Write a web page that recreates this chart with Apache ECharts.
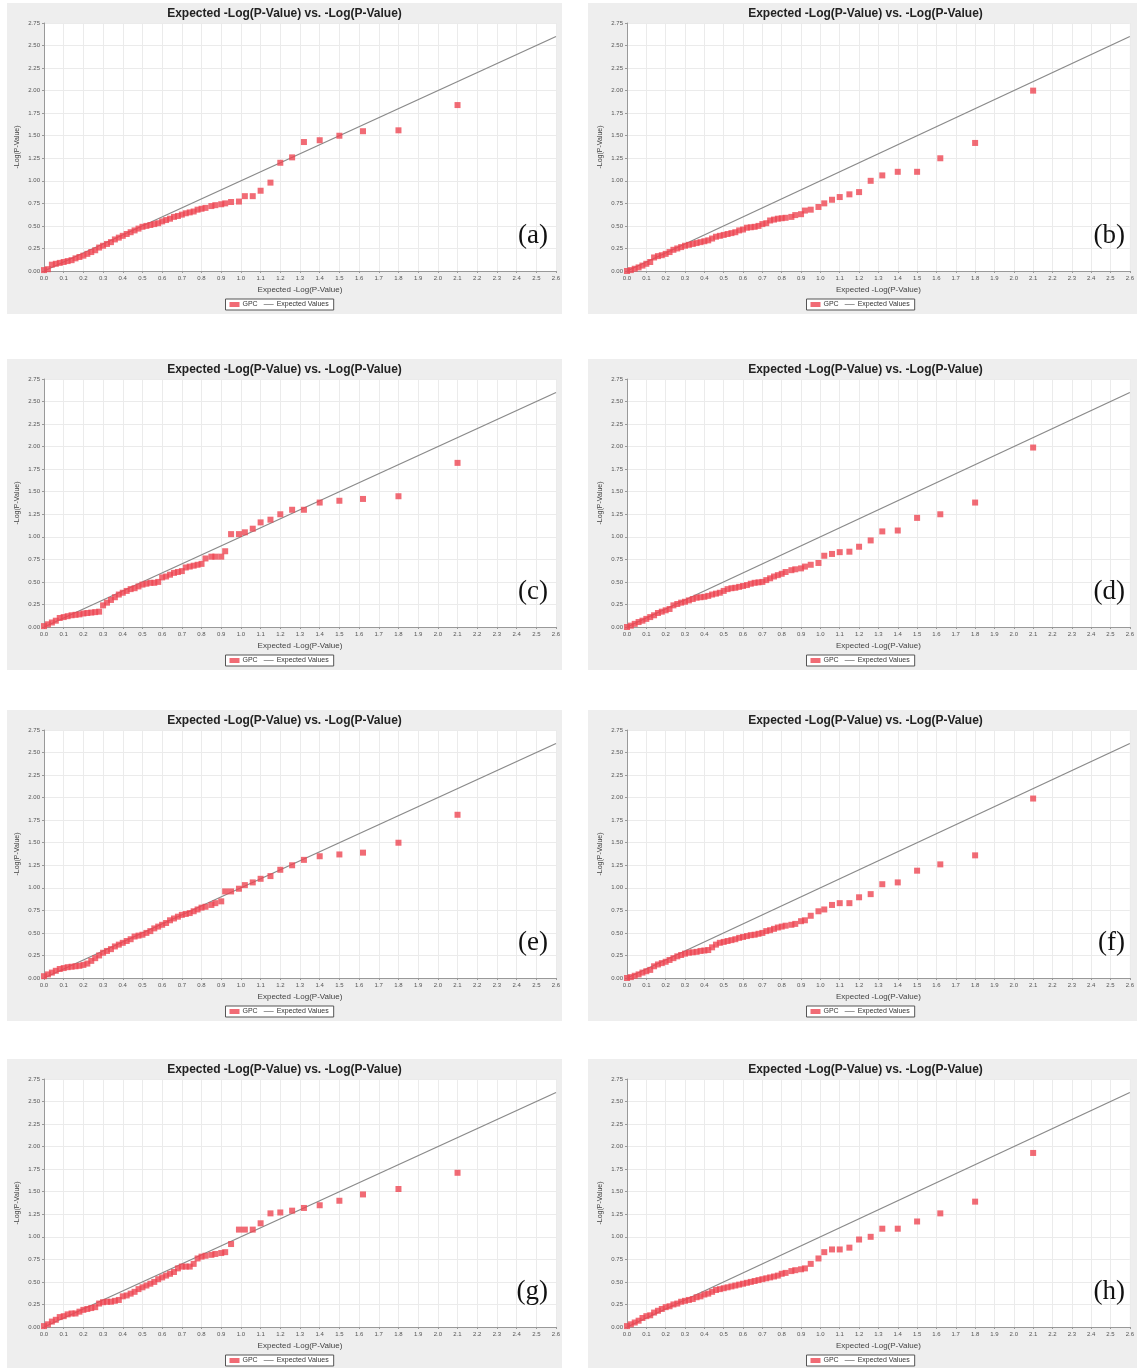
<!DOCTYPE html>
<html>
<head>
<meta charset="utf-8">
<script src="https://cdn.jsdelivr.net/npm/echarts@6/dist/echarts.min.js"></script>
<style>
html,body{margin:0;padding:0;background:#fff;}
#chart{width:1137px;height:1368px;}
</style>
</head>
<body>
<div id="chart"></div>
<script>
// Expected -Log(P-Value) (x) shared by all panels
const expected = [2.10, 1.80, 1.62, 1.50, 1.40, 1.32, 1.26, 1.20, 1.15, 1.10,
  1.06, 1.02, 0.99, 0.95, 0.92, 0.90, 0.87, 0.85, 0.82, 0.80,
  0.78, 0.76, 0.74, 0.72, 0.70, 0.68, 0.66, 0.64, 0.62, 0.60,
  0.58, 0.56, 0.54, 0.52, 0.50, 0.48, 0.46, 0.44, 0.42, 0.40,
  0.38, 0.36, 0.34, 0.32, 0.30, 0.28, 0.26, 0.24, 0.22, 0.20,
  0.18, 0.16, 0.14, 0.12, 0.10, 0.08, 0.06, 0.04, 0.02, 0.00];

// Observed -Log(P-Value) per panel
const obsA = [1.84, 1.56, 1.55, 1.50, 1.45, 1.43, 1.26, 1.20, 0.98, 0.89,
  0.83, 0.83, 0.77, 0.765, 0.75, 0.74, 0.73, 0.72, 0.70, 0.69,
  0.68, 0.66, 0.65, 0.64, 0.625, 0.61, 0.60, 0.58, 0.565, 0.55,
  0.53, 0.52, 0.51, 0.50, 0.49, 0.47, 0.45, 0.43, 0.41, 0.39,
  0.37, 0.35, 0.32, 0.30, 0.28, 0.26, 0.23, 0.21, 0.19, 0.17,
  0.155, 0.14, 0.12, 0.11, 0.10, 0.09, 0.08, 0.07, 0.02, 0.01];
const obsB = [2.00, 1.42, 1.25, 1.10, 1.10, 1.06, 1.00, 0.875, 0.85, 0.82,
  0.79, 0.75, 0.71, 0.68, 0.67, 0.63, 0.62, 0.60, 0.59, 0.585,
  0.58, 0.57, 0.56, 0.53, 0.52, 0.50, 0.49, 0.485, 0.48, 0.46,
  0.45, 0.43, 0.42, 0.41, 0.40, 0.39, 0.38, 0.36, 0.34, 0.33,
  0.32, 0.31, 0.30, 0.29, 0.28, 0.265, 0.25, 0.235, 0.21, 0.19,
  0.175, 0.165, 0.15, 0.10, 0.08, 0.06, 0.04, 0.025, 0.01, 0.00];
const obsC = [1.82, 1.45, 1.42, 1.40, 1.38, 1.30, 1.30, 1.25, 1.19, 1.16,
  1.09, 1.05, 1.03, 1.03, 0.84, 0.78, 0.78, 0.78, 0.76, 0.70,
  0.69, 0.68, 0.67, 0.66, 0.62, 0.61, 0.60, 0.58, 0.56, 0.55,
  0.50, 0.49, 0.49, 0.48, 0.47, 0.45, 0.43, 0.42, 0.40, 0.38,
  0.36, 0.33, 0.30, 0.27, 0.24, 0.17, 0.165, 0.16, 0.155, 0.15,
  0.14, 0.135, 0.13, 0.12, 0.11, 0.10, 0.07, 0.05, 0.03, 0.01];
const obsD = [1.99, 1.38, 1.25, 1.21, 1.07, 1.06, 0.96, 0.89, 0.835, 0.83,
  0.81, 0.79, 0.71, 0.69, 0.67, 0.65, 0.64, 0.63, 0.61, 0.59,
  0.575, 0.56, 0.54, 0.52, 0.50, 0.495, 0.49, 0.48, 0.465, 0.455,
  0.445, 0.435, 0.43, 0.42, 0.40, 0.38, 0.37, 0.36, 0.345, 0.335,
  0.33, 0.325, 0.31, 0.295, 0.28, 0.27, 0.255, 0.24, 0.20, 0.185,
  0.17, 0.155, 0.13, 0.11, 0.09, 0.07, 0.055, 0.035, 0.015, 0.00];
const obsE = [1.81, 1.50, 1.39, 1.37, 1.35, 1.31, 1.25, 1.20, 1.13, 1.10,
  1.06, 1.03, 0.99, 0.96, 0.96, 0.85, 0.83, 0.81, 0.79, 0.78,
  0.76, 0.74, 0.72, 0.71, 0.70, 0.68, 0.66, 0.64, 0.61, 0.59,
  0.57, 0.55, 0.52, 0.50, 0.48, 0.47, 0.46, 0.43, 0.41, 0.39,
  0.37, 0.35, 0.32, 0.30, 0.28, 0.25, 0.22, 0.19, 0.16, 0.145,
  0.135, 0.13, 0.125, 0.12, 0.11, 0.10, 0.08, 0.06, 0.04, 0.02];
const obsF = [1.99, 1.36, 1.26, 1.19, 1.06, 1.04, 0.93, 0.895, 0.83, 0.83,
  0.81, 0.76, 0.74, 0.69, 0.64, 0.63, 0.60, 0.59, 0.58, 0.57,
  0.56, 0.545, 0.53, 0.52, 0.50, 0.49, 0.48, 0.475, 0.465, 0.455,
  0.445, 0.43, 0.42, 0.41, 0.40, 0.39, 0.37, 0.34, 0.31, 0.305,
  0.30, 0.29, 0.285, 0.28, 0.27, 0.255, 0.24, 0.22, 0.20, 0.18,
  0.165, 0.15, 0.13, 0.09, 0.075, 0.06, 0.04, 0.025, 0.01, 0.00];
const obsG = [1.71, 1.53, 1.47, 1.40, 1.35, 1.32, 1.29, 1.27, 1.26, 1.15,
  1.08, 1.08, 1.08, 0.92, 0.83, 0.82, 0.81, 0.80, 0.79, 0.78,
  0.76, 0.70, 0.67, 0.67, 0.67, 0.65, 0.61, 0.59, 0.57, 0.55,
  0.53, 0.50, 0.48, 0.46, 0.44, 0.42, 0.39, 0.37, 0.35, 0.34,
  0.30, 0.29, 0.28, 0.28, 0.275, 0.26, 0.22, 0.21, 0.20, 0.19,
  0.17, 0.15, 0.15, 0.14, 0.12, 0.11, 0.08, 0.06, 0.03, 0.01];
const obsH = [1.93, 1.39, 1.26, 1.17, 1.09, 1.09, 1.00, 0.97, 0.88, 0.86,
  0.86, 0.83, 0.76, 0.70, 0.65, 0.64, 0.63, 0.62, 0.60, 0.59,
  0.57, 0.56, 0.55, 0.54, 0.53, 0.52, 0.51, 0.50, 0.49, 0.48,
  0.47, 0.46, 0.45, 0.44, 0.43, 0.42, 0.41, 0.39, 0.37, 0.36,
  0.34, 0.33, 0.31, 0.30, 0.29, 0.28, 0.26, 0.25, 0.23, 0.22,
  0.20, 0.18, 0.16, 0.13, 0.12, 0.10, 0.07, 0.05, 0.03, 0.01];

const panelObs = [obsA, obsB, obsC, obsD, obsE, obsF, obsG, obsH];
const panelLabels = ['(a)', '(b)', '(c)', '(d)', '(e)', '(f)', '(g)', '(h)'];
const refLineX = [0, 2.6];
const chartTitle = 'Expected -Log(P-Value) vs. -Log(P-Value)';
const xAxisTitle = 'Expected -Log(P-Value)';
const yAxisTitle = '-Log(P-Value)';
const seriesNames = ['GPC', 'Expected Values'];

// Layout
const colFrameX = [7, 588];
const colPlotX = [44, 627];
const rowFrameY = [3, 359, 710, 1059];
const frameW = 555, frameH = 311;
const plotW = 512, plotH = 248;
const labelRightX = [548, 1125];

const chart = echarts.init(document.getElementById('chart'), null, {renderer: 'canvas'});
const SANS = '"Liberation Sans", Arial, sans-serif';

const grids = [], xAxes = [], yAxes = [], series = [], titles = [], legends = [], graphics = [];

panelObs.forEach((obs, p) => {
  const col = p % 2, row = Math.floor(p / 2);
  const fx = colFrameX[col], fy = rowFrameY[row];
  const cx = fx + frameW / 2;
  graphics.push({
    type: 'rect', z: -10,
    shape: {x: fx, y: fy, width: frameW, height: frameH},
    style: {fill: '#eeeeee'}
  });
  graphics.push({
    type: 'text', z: 100,
    style: {
      text: panelLabels[p], x: labelRightX[col], y: fy + 233,
      textAlign: 'right', textVerticalAlign: 'middle',
      font: '27px "Liberation Serif", "Times New Roman", serif', fill: '#111'
    }
  });
  grids.push({
    left: colPlotX[col], top: fy + 20, width: plotW, height: plotH,
    show: true, backgroundColor: '#ffffff', borderWidth: 0
  });
  titles.push({
    text: chartTitle, left: cx, top: fy + 5, textAlign: 'center', padding: 0,
    textStyle: {fontFamily: SANS, fontSize: 12, fontWeight: 'bold', color: '#222'}
  });
  xAxes.push({
    type: 'value', gridIndex: p, min: 0, max: 2.6, interval: 0.1,
    name: xAxisTitle, nameLocation: 'middle', nameGap: 15,
    nameTextStyle: {fontFamily: SANS, fontSize: 8, color: '#444'},
    axisLine: {show: true, lineStyle: {color: '#999', width: 1}},
    axisTick: {show: true, length: 2, lineStyle: {color: '#999'}},
    axisLabel: {fontFamily: SANS, fontSize: 6, color: '#555', margin: 4,
      formatter: v => v.toFixed(1)},
    splitLine: {show: true, lineStyle: {color: '#ebebeb', width: 1}}
  });
  yAxes.push({
    type: 'value', gridIndex: p, min: 0, max: 2.75, interval: 0.25,
    name: yAxisTitle, nameLocation: 'middle', nameGap: 23, nameRotate: 90,
    nameTextStyle: {fontFamily: SANS, fontSize: 7, color: '#444'},
    axisLine: {show: true, lineStyle: {color: '#999', width: 1}},
    axisTick: {show: true, length: 2, lineStyle: {color: '#999'}},
    axisLabel: {fontFamily: SANS, fontSize: 6, color: '#555', margin: 4,
      formatter: v => v.toFixed(2)},
    splitLine: {show: true, lineStyle: {color: '#ebebeb', width: 1}}
  });
  series.push({
    name: seriesNames[0], type: 'scatter', xAxisIndex: p, yAxisIndex: p,
    symbol: 'rect', symbolSize: 6,
    itemStyle: {color: '#ee4652'},
    data: expected.map((x, i) => [x, obs[i]]),
    z: 3, animation: false
  });
  series.push({
    name: seriesNames[1], type: 'line', xAxisIndex: p, yAxisIndex: p,
    showSymbol: false, symbol: 'none',
    lineStyle: {color: '#8a8a8a', width: 1.3},
    itemStyle: {color: '#8a8a8a'},
    data: refLineX.map(v => [v, v]),
    z: 2, animation: false
  });
  legends.push({
    left: cx - 59, top: fy + 296,
    orient: 'horizontal', itemGap: 6, itemWidth: 10, itemHeight: 5,
    padding: [2, 5, 2, 4],
    borderColor: '#555', borderWidth: 1, backgroundColor: '#ffffff',
    selectedMode: false,
    textStyle: {fontFamily: SANS, fontSize: 7, color: '#333', padding: [0, 0, 0, -2]},
    data: [
      {name: seriesNames[0], icon: 'rect', itemStyle: {color: '#ee4652'}},
      {name: seriesNames[1], icon: 'path://M0,4 L20,4 L20,5.5 L0,5.5 Z', itemStyle: {color: '#777'}}
    ]
  });
});

chart.setOption({
  animation: false,
  backgroundColor: '#ffffff',
  title: titles,
  grid: grids,
  xAxis: xAxes,
  yAxis: yAxes,
  legend: legends,
  series: series,
  graphic: graphics
});
</script>
</body>
</html>
